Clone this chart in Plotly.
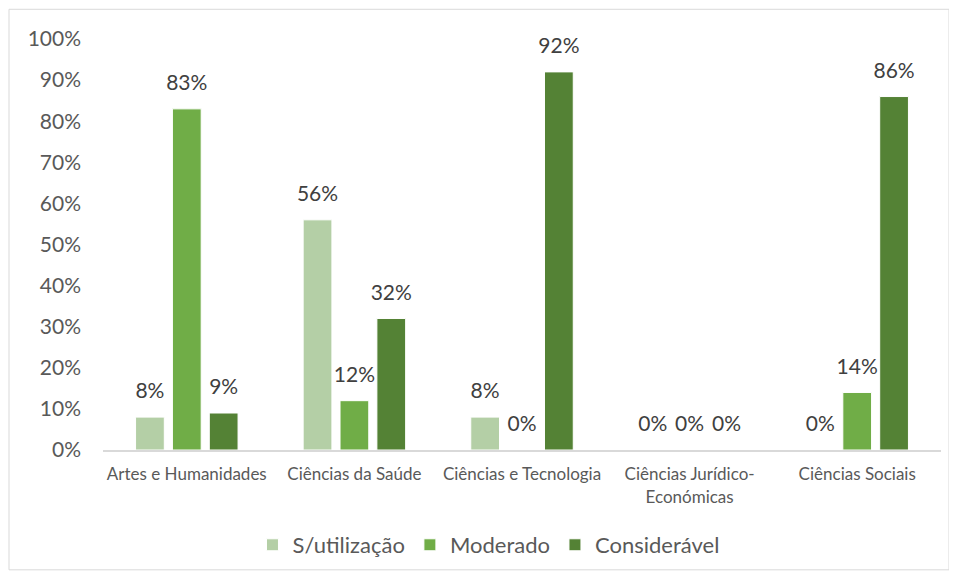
import plotly.graph_objects as go

# ── Data ──────────────────────────────────────────────────────────────────────
categories = [
    "Artes e Humanidades",
    "Ciências da Saúde",
    "Ciências e Tecnologia",
    "Ciências Jurídico-<br>Económicas",
    "Ciências Sociais",
]
sem_utilizacao = [0.08, 0.56, 0.08, 0.0, 0.0]
moderado = [0.83, 0.12, 0.0, 0.0, 0.14]
consideravel = [0.09, 0.32, 0.92, 0.0, 0.86]

series = [
    ("S/utilização", sem_utilizacao, "#B4CFA6"),
    ("Moderado", moderado, "#70AD47"),
    ("Considerável", consideravel, "#548235"),
]

FONT = "Lato, Calibri, sans-serif"
# page body adds an 8px margin, so the figure is drawn 8px smaller
W, H = 949, 570
M = dict(l=95, r=16, t=31, b=124)

fig = go.Figure()
for name, vals, colour in series:
    fig.add_trace(go.Bar(
        x=categories,
        y=vals,
        name=name,
        offsetgroup=name,
        alignmentgroup="g",
        marker=dict(color=colour, line=dict(color="white", width=1)),
    ))
# data labels, floated a little above each bar
for name, vals, colour in series:
    fig.add_trace(go.Scatter(
        x=categories,
        y=vals,
        mode="markers+text",
        offsetgroup=name,
        alignmentgroup="g",
        marker=dict(size=20, opacity=0),
        text=[f"{v:.0%}" for v in vals],
        textposition="top center",
        textfont=dict(size=21, color="#404040", family=FONT),
        showlegend=False,
        hoverinfo="skip",
        cliponaxis=False,
    ))

# outer chart border (in paper coords)
pw = W - M["l"] - M["r"]
ph = H - M["t"] - M["b"]
x0 = (1 - M["l"]) / pw
x1 = (941 - M["l"]) / pw
y0 = (H - M["b"] - 567) / ph
y1 = (H - M["b"] - 1) / ph

fig.update_layout(
    width=W,
    height=H,
    margin=M,
    barmode="group",
    bargap=0.34,
    bargroupgap=0.22,
    scattermode="group",
    scattergap=0.34,
    plot_bgcolor="white",
    paper_bgcolor="white",
    font=dict(family=FONT, color="#595959"),
    showlegend=True,
    legend=dict(
        orientation="h",
        x=0.46, xanchor="center",
        y=-0.18, yanchor="top",
        font=dict(size=22, color="#595959"),
        traceorder="normal",
    ),
    shapes=[dict(
        type="rect", xref="paper", yref="paper",
        x0=x0, x1=x1, y0=y0, y1=y1,
        line=dict(color="#D9D9D9", width=1),
        fillcolor="rgba(0,0,0,0)", layer="below",
    )],
)
fig.update_xaxes(
    showline=True, linecolor="#D9D9D9", linewidth=2,
    showgrid=False, ticks="", tickfont=dict(size=17, color="#595959"),
    ticklabelstandoff=8,
)
fig.update_yaxes(
    range=[0, 1], dtick=0.1, tickformat=".0%",
    showgrid=False, zeroline=False, showline=False, ticks="",
    tickfont=dict(size=21, color="#595959"),
    ticklabelstandoff=21,
)

fig.write_html("out.html")
